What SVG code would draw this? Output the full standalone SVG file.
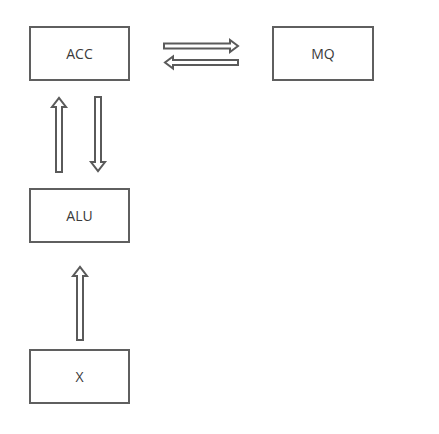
<svg xmlns="http://www.w3.org/2000/svg" width="439" height="434" viewBox="0 0 439 434">
<style>
.box{fill:#fff;stroke:#5f5f5f;stroke-width:2}
.lbl{font-family:"Open Sans","Noto Sans",sans-serif;font-size:14px;fill:#3a3a3a;text-anchor:middle;dominant-baseline:central}
.arr{fill:#fff;stroke:#5a5a5a;stroke-width:2;stroke-linejoin:miter}
</style>
<rect width="439" height="434" fill="#fff"/>
<g id="ACC"><rect class="box" x="30" y="27" width="99" height="53"/><text class="lbl" x="79.5" y="53.5">ACC</text></g>
<g id="MQ"><rect class="box" x="273" y="27" width="100" height="53"/><text class="lbl" x="323" y="53.5">MQ</text></g>
<g id="ALU"><rect class="box" x="30" y="189" width="99" height="53"/><text class="lbl" x="79.5" y="215.5">ALU</text></g>
<g id="X"><rect class="box" x="30" y="350" width="99" height="53"/><text class="lbl" x="79.5" y="376.5">X</text></g>
<g id="connectors">
<path class="arr" d="M164,43.5 H230 V40 L238,46 L230,52 V48.5 H164 Z"/>
<path class="arr" d="M238,60 H173 V56.5 L165,62.5 L173,68.5 V65 H238 Z"/>
<path class="arr" d="M56,172 V107 H52 L59,98 L66,107 H62 V172 Z"/>
<path class="arr" d="M95,97 V162 H91 L98,171 L105,162 H101 V97 Z"/>
<path class="arr" d="M77,340 V276 H73 L80,267 L87,276 H83 V340 Z"/>
</g>
</svg>
